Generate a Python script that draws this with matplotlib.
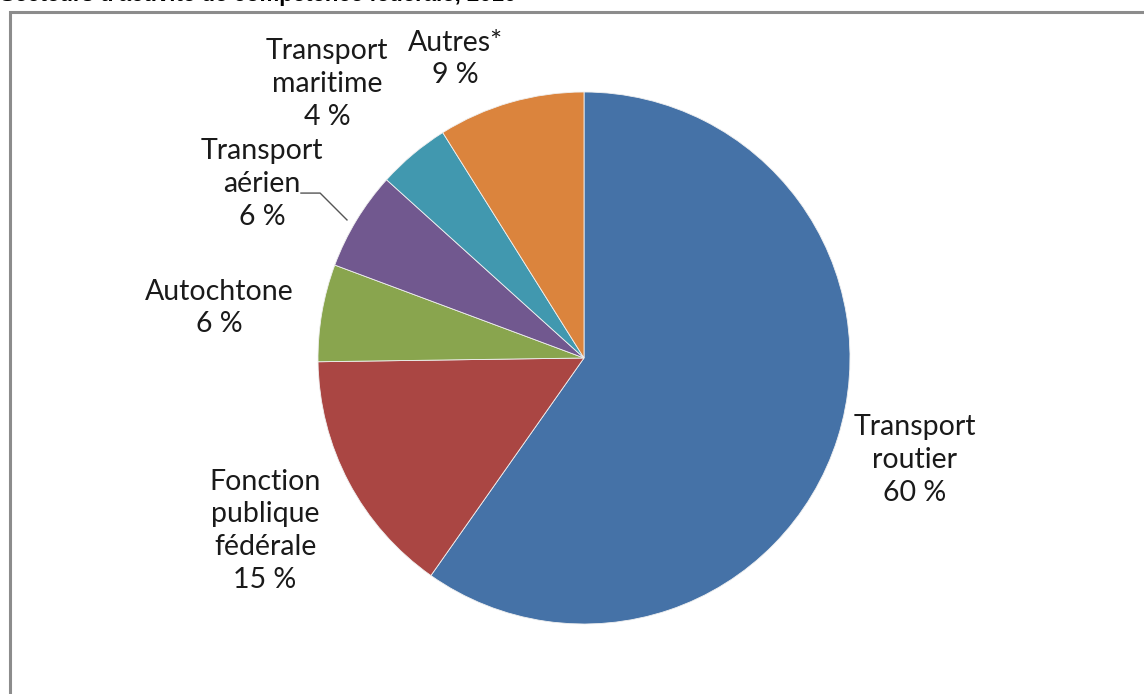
import matplotlib.pyplot as plt
from matplotlib.patches import Rectangle

plt.rcParams['font.family'] = ['Lato', 'DejaVu Sans']

# data (slice sizes, labels as printed)
secteurs = ["Transport\nroutier", "Fonction\npublique\nfédérale", "Autochtone",
            "Transport\naérien", "Transport\nmaritime", "Autres*"]
parts = [59.7, 15.0, 5.9, 6.0, 4.4, 8.9]
couleurs = ["#4572A7", "#AA4643", "#89A54E", "#71588F", "#4198AF", "#DB843D"]

# label positions (pie radius = 1)
pos_labels = [(1.244, -0.383), (-1.199, -0.650), (-1.372, 0.188),
              (-1.211, 0.654), (-0.966, 1.030), (-0.485, 1.124)]

W, H = 1144, 694
cx, cy, r = 584, 358, 266

fig = plt.figure(figsize=(W / 100, H / 100), dpi=100)
ax = fig.add_axes([(cx - r) / W, (H - cy - r) / H, 2 * r / W, 2 * r / H])

ax.pie(parts, colors=couleurs, startangle=90, counterclock=False, radius=1,
       wedgeprops=dict(edgecolor='#f0f0f0', linewidth=0.6))
ax.set_xlim(-1, 1)
ax.set_ylim(-1, 1)
ax.set_aspect('equal')
ax.axis('off')

for nom, v, (x, y) in zip(secteurs, parts, pos_labels):
    ax.text(x, y, "%s\n%d %%" % (nom, round(v)), ha='center', va='center',
            fontsize=20.5, linespacing=1.33, color='#1a1a1a', clip_on=False)

# leader line for Transport aérien
ax.plot([-1.064, -0.992, -0.891], [0.620, 0.620, 0.519], color='#555555',
        lw=1, clip_on=False)

# chart frame (cut off at right and bottom)
fig.patches.append(Rectangle((9.5 / W, -0.1), 1.2, 1 - 12.5 / H + 0.1,
                             transform=fig.transFigure, fill=False,
                             edgecolor='#8c8c8c', lw=2.2))

# title, mostly cut off at the top of the image
fig.text(0.0, 1 - 1 / H, "Secteurs d'activité de compétence fédérale, 2010",
         ha='left', va='baseline', fontsize=16, fontweight='bold',
         family='Liberation Sans')

fig.savefig("out.png", dpi=100)
